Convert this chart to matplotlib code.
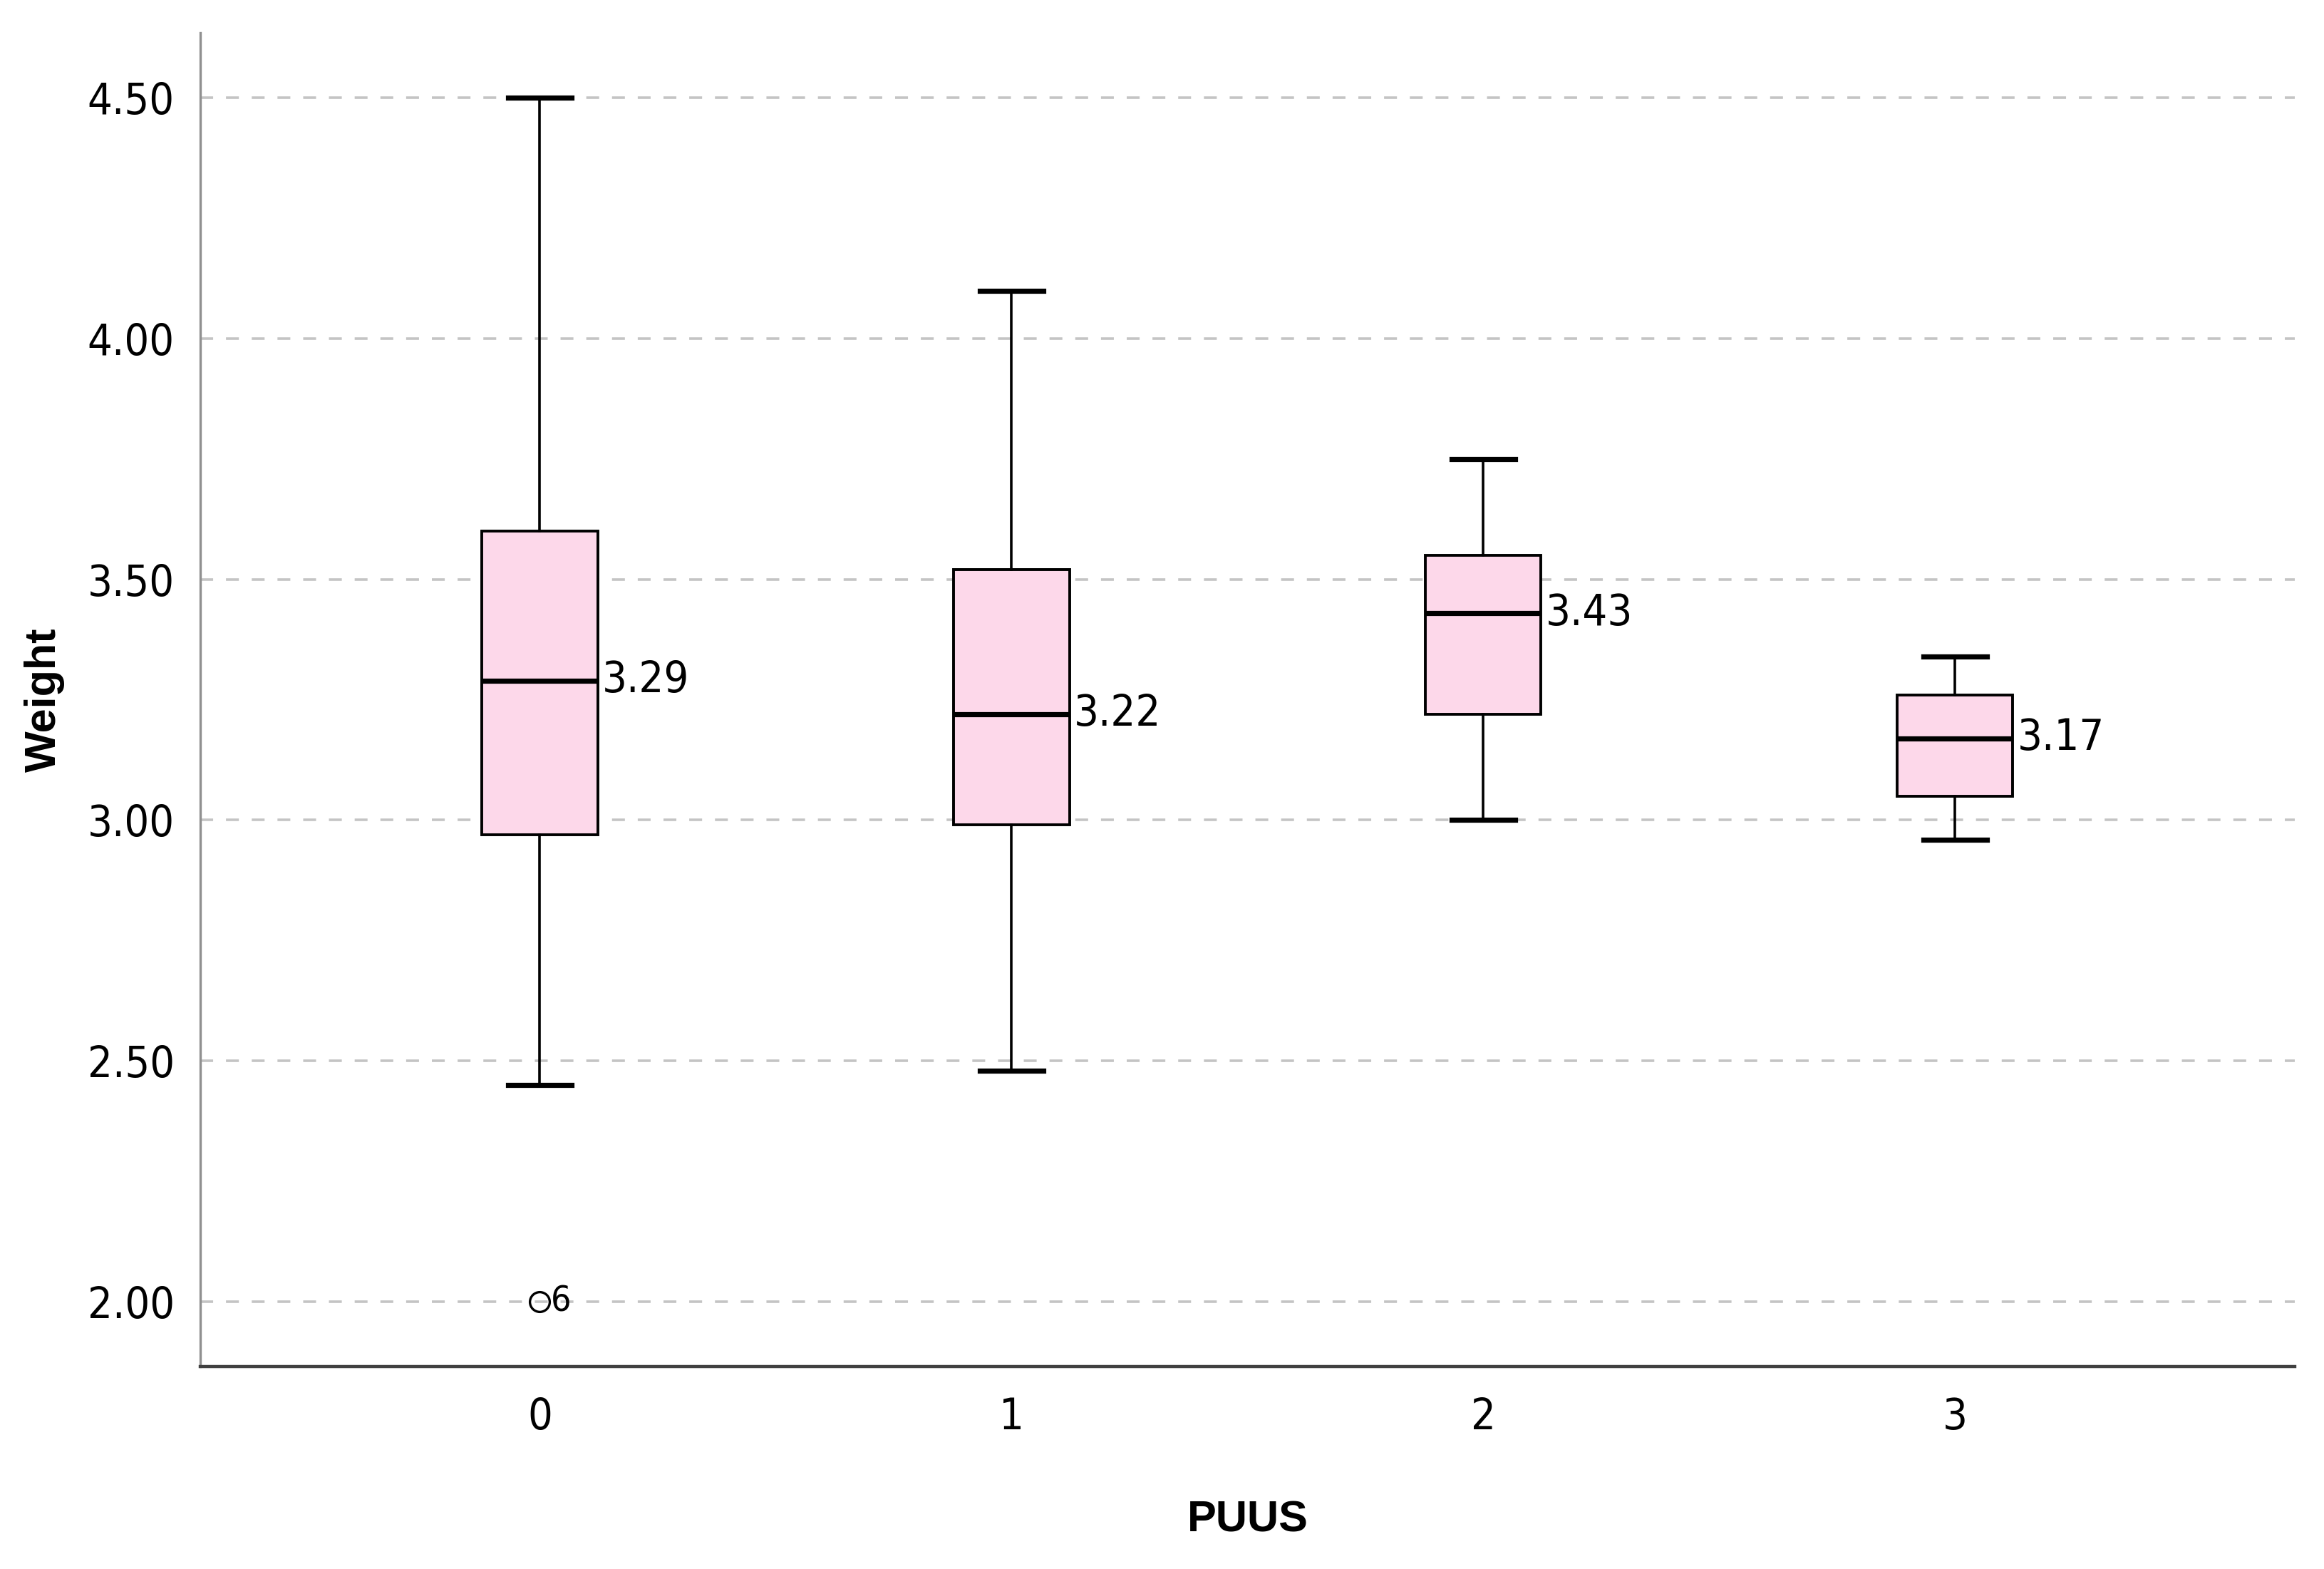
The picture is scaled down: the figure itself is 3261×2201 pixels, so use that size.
import matplotlib
matplotlib.use('Agg')
import matplotlib.pyplot as plt
from matplotlib import font_manager
from matplotlib.font_manager import FontProperties

# Data (SPSS-style boxplot)
groups = ['0', '1', '2', '3']
whisker_low = [2.45, 2.48, 3.00, 2.96]
q1 = [2.97, 2.99, 3.22, 3.05]
medians = [3.29, 3.22, 3.43, 3.17]
q3 = [3.60, 3.52, 3.55, 3.26]
whisker_high = [4.50, 4.10, 3.75, 3.34]
outliers = [[2.00], [], [], []]
outlier_ids = [['6'], [], [], []]
y_ticks = [2.00, 2.50, 3.00, 3.50, 4.00, 4.50]

# look for a narrow/condensed regular face for the SPSS-like tick font
narrow_path = None
for f in font_manager.fontManager.ttflist:
    fn = f.fname.lower()
    if ('narrow' in fn or 'condensed' in fn) and f.weight in (400, 'normal') \
            and f.style == 'normal' and 'bold' not in fn and 'oblique' not in fn:
        if narrow_path is None or 'liberation' in fn:
            narrow_path = f.fname


def nfont(size):
    if narrow_path:
        return FontProperties(fname=narrow_path, size=size)
    return FontProperties(family='Liberation Sans', size=size)


fig = plt.figure(figsize=(3262 / 200, 2201 / 200), dpi=200)
ax = fig.add_axes([0.0861, 0.129, 0.901, 0.850])

positions = list(range(len(groups)))
stats = []
for i in positions:
    stats.append({
        'whislo': whisker_low[i], 'q1': q1[i], 'med': medians[i],
        'q3': q3[i], 'whishi': whisker_high[i], 'fliers': []
    })

ax.bxp(stats, positions=positions, widths=0.245, patch_artist=True,
       showfliers=False, capwidths=0.135,
       boxprops=dict(facecolor='#fdd8ea', edgecolor='black', linewidth=1.4),
       medianprops=dict(color='black', linewidth=2.6),
       whiskerprops=dict(color='black', linewidth=1.3),
       capprops=dict(color='black', linewidth=2.6), zorder=3)

# outliers (open circles with case ids)
for i in positions:
    for val, lab in zip(outliers[i], outlier_ids[i]):
        ax.plot(i, val, marker='o', markersize=10, markerfacecolor='none',
                markeredgecolor='black', markeredgewidth=1.2, zorder=4)
        ax.text(i + 0.024, val, lab, fontproperties=nfont(18),
                va='center', ha='left', zorder=4)

# median labels
for i in positions:
    ax.text(i + 0.132, medians[i], f'{medians[i]:.2f}', fontproperties=nfont(22),
            va='center', ha='left', zorder=4)

ax.set_xlim(-0.72, 3.72)
ax.set_ylim(1.865, 4.635)
ax.set_yticks(y_ticks)
ax.set_yticklabels([f'{t:.2f}' for t in y_ticks], fontproperties=nfont(22))
ax.set_xticks(positions)
ax.set_xticklabels(groups, fontproperties=nfont(22))
ax.tick_params(axis='both', length=0)
ax.tick_params(axis='y', pad=13)
ax.tick_params(axis='x', pad=15)

ax.yaxis.grid(True, color='#c4c4c4', linestyle=(0, (5, 5)), linewidth=1.3, zorder=0)
ax.set_axisbelow(True)

for s in ['top', 'right']:
    ax.spines[s].set_visible(False)
ax.spines['left'].set_color('#909090')
ax.spines['left'].set_linewidth(1.2)
ax.spines['bottom'].set_color('#404040')
ax.spines['bottom'].set_linewidth(1.6)

ax.set_ylabel('Weight', fontsize=22, fontweight='bold', family='Liberation Sans')
ax.set_xlabel('PUUS', fontsize=22, fontweight='bold', family='Liberation Sans')
ax.yaxis.set_label_coords(-0.0645, 0.5)
ax.xaxis.set_label_coords(0.5, -0.1)

fig.savefig('out.png', dpi=200, facecolor='white')
